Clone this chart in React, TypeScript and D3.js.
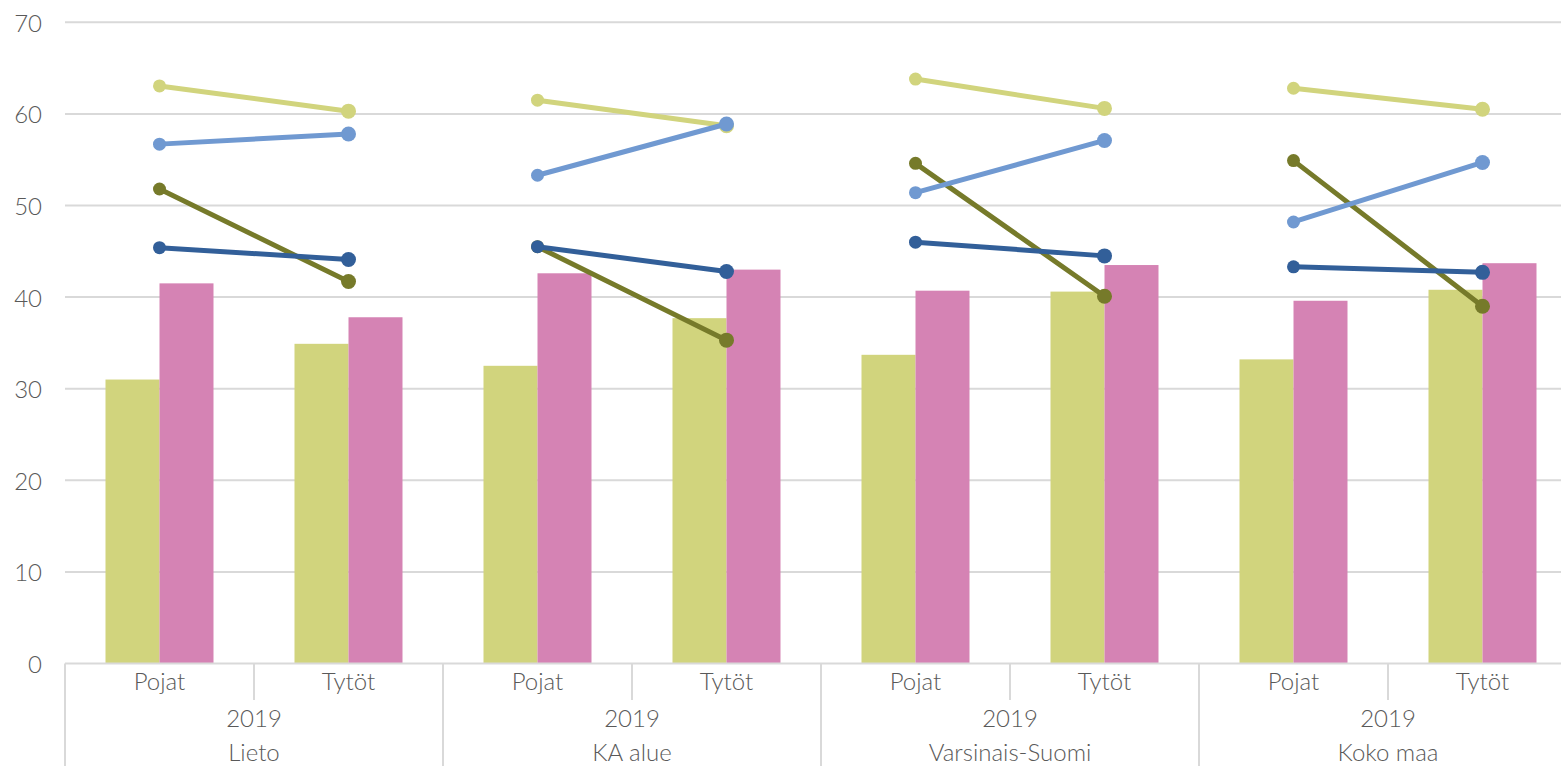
import React from "react";
import * as d3 from "d3";

const subCategories = ["Pojat", "Tytöt"];
const regions = ["Lieto", "KA alue", "Varsinais-Suomi", "Koko maa"];
const yearLabel = "2019";
const yTicks = [0, 10, 20, 30, 40, 50, 60, 70];

const barGreen = [31.0, 34.9, 32.5, 37.7, 33.7, 40.6, 33.2, 40.8];
const barPink = [41.5, 37.8, 42.6, 43.0, 40.7, 43.5, 39.6, 43.7];

const lineLightGreen = [63.05, 60.3, 61.5, 58.7, 63.8, 60.6, 62.8, 60.5];
const lineLightBlue = [56.7, 57.8, 53.3, 58.9, 51.4, 57.1, 48.2, 54.7];
const lineOlive = [51.8, 41.7, 45.5, 35.3, 54.6, 40.1, 54.9, 39.0];
const lineDarkBlue = [45.4, 44.1, 45.5, 42.8, 46.0, 44.5, 43.3, 42.7];

const W = 1561;
const H = 766;
const X0 = 65;
const CAT_W = 189;
const FONT = "Lato, 'Open Sans', sans-serif";
const FONT_SIZE = 24;
const FONT_WEIGHT = 300;
const TEXT_COLOR = "#595959";
const GRID = "#d9d9d9";

export default function App() {
  const cats = regions.flatMap((r, gi) => subCategories.map((s, si) => `${gi}-${si}`));
  const x = d3.scaleBand<string>().domain(cats).range([X0, X0 + CAT_W * cats.length]).padding(0);
  const y = d3.scaleLinear().domain([0, 70]).range([663.5, 22.3]);
  const inner = d3.scaleBand<string>().domain(["g", "p"]).range([-54, 54]).padding(0);

  const barSeries = [
    { key: "g", values: barGreen, color: "#d1d47d" },
    { key: "p", values: barPink, color: "#d583b4" },
  ];
  const lineSeries = [
    { values: lineLightGreen, color: "#d1d47d" },
    { values: lineOlive, color: "#767a2a" },
    { values: lineLightBlue, color: "#7099d1" },
    { values: lineDarkBlue, color: "#325f99" },
  ];

  const cx = (i: number) => (x(cats[i]) as number) + x.bandwidth() / 2;
  const textProps = {
    fontFamily: FONT,
    fontSize: FONT_SIZE,
    fontWeight: FONT_WEIGHT,
    fill: TEXT_COLOR,
  };

  return (
    <div style={{ position: "fixed", left: 0, top: 0, width: W, height: H, overflow: "hidden", background: "#fff" }}>
      <svg width={W} height={H} style={{ display: "block" }}>
        {yTicks.map((t) => (
          <g key={t}>
            {t > 0 && <line x1={X0} x2={W} y1={y(t)} y2={y(t)} stroke={GRID} strokeWidth={2} />}
            <text x={42} y={y(t)} textAnchor="end" dominantBaseline="central" {...textProps}>
              {t}
            </text>
          </g>
        ))}

        {barSeries.map((s) =>
          s.values.map((v, i) => (
            <rect
              key={s.key + i}
              x={cx(i) + (inner(s.key) as number)}
              width={inner.bandwidth()}
              y={y(v)}
              height={y(0) - y(v)}
              fill={s.color}
            />
          ))
        )}

        <line x1={X0} x2={W} y1={y(0)} y2={y(0)} stroke={GRID} strokeWidth={2} />
        {cats.map((c, i) => {
          const left = x(c) as number;
          const isGroupStart = i % 2 === 0;
          return (
            <line
              key={"d" + i}
              x1={left}
              x2={left}
              y1={y(0)}
              y2={isGroupStart ? H : 700}
              stroke={GRID}
              strokeWidth={2}
            />
          );
        })}
        {cats.map((c, i) => (
          <text key={"s" + i} x={cx(i)} y={690} textAnchor="middle" {...textProps}>
            {subCategories[i % 2]}
          </text>
        ))}
        {regions.map((r, gi) => {
          const gx = (x(cats[gi * 2]) as number) + CAT_W;
          return (
            <g key={r}>
              <text x={gx} y={727} textAnchor="middle" {...textProps}>
                {yearLabel}
              </text>
              <text x={gx} y={761} textAnchor="middle" {...textProps}>
                {r}
              </text>
            </g>
          );
        })}

        {lineSeries.map((s, si) =>
          regions.map((r, gi) => {
            const i0 = gi * 2;
            const pts: [number, number][] = [0, 1].map((k) => [cx(i0 + k), y(s.values[i0 + k])]);
            const path = d3.line()(pts) as string;
            return (
              <g key={si + "-" + gi}>
                <path d={path} fill="none" stroke={s.color} strokeWidth={5} strokeLinecap="round" />
                {pts.map((p, k) => (
                  <circle key={k} cx={p[0]} cy={p[1]} r={k === 0 ? 6.5 : 7.5} fill={s.color} />
                ))}
              </g>
            );
          })
        )}
      </svg>
    </div>
  );
}
